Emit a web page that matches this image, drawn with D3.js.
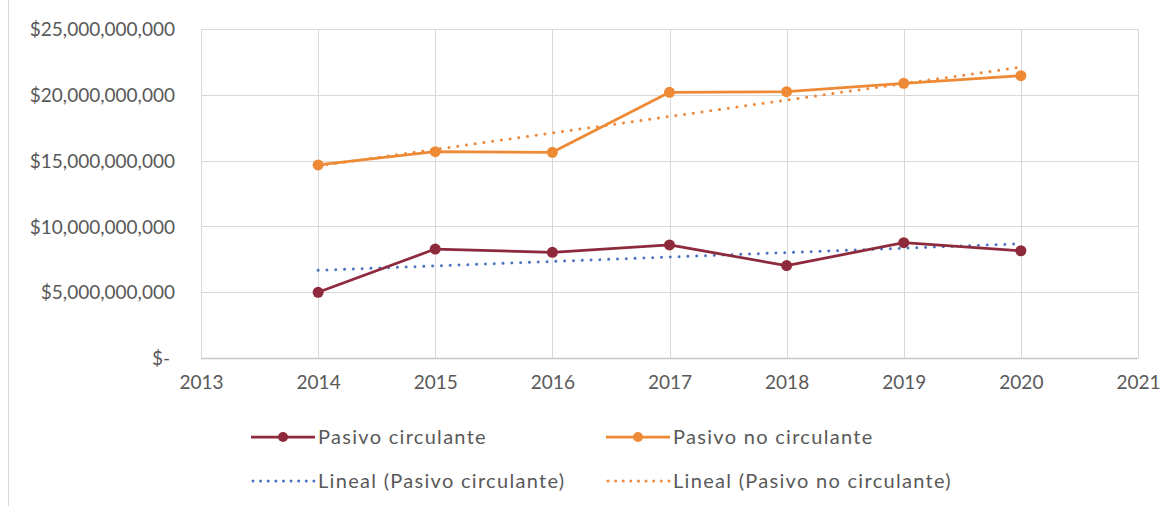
<!DOCTYPE html>
<html>
<head>
<meta charset="utf-8">
<script src="https://cdn.jsdelivr.net/npm/d3@7"></script>
<style>
  html, body { margin: 0; padding: 0; background: #fff; }
  svg { display: block; }
  text { font-family: Lato, "Open Sans", sans-serif; fill: #595959; }
</style>
</head>
<body>
<script>
// ---- data ----
const years = [2014, 2015, 2016, 2017, 2018, 2019, 2020];
const pasivoCirculante = [4.99e9, 8.28e9, 8.03e9, 8.59e9, 7.02e9, 8.76e9, 8.15e9];
const pasivoNoCirculante = [14.67e9, 15.68e9, 15.63e9, 20.19e9, 20.24e9, 20.87e9, 21.45e9];
// linear trendline endpoints (2014, 2020)
const trendYears = [2014, 2020];
const lineal_circulante = [6.66e9, 8.68e9];
const lineal_noCirculante = [14.60e9, 22.10e9];
const xTicks = [2013, 2014, 2015, 2016, 2017, 2018, 2019, 2020, 2021];
const yTicks = [0, 5e9, 10e9, 15e9, 20e9, 25e9];
const seriesNames = ["Pasivo circulante", "Pasivo no circulante",
                     "Lineal (Pasivo circulante)", "Lineal (Pasivo no circulante)"];

const W = 1172, H = 506;
const colRed = "#8e2a3c", colOrange = "#ee8a36", colBlue = "#4a74c0", colOrangeDot = "#ed8a3e";
const textCol = "#555555";

const svg = d3.select("body").append("svg").attr("width", W).attr("height", H);

// chart border (left edge visible)
svg.append("line").attr("x1", 8.5).attr("x2", 8.5).attr("y1", 0).attr("y2", H)
  .attr("stroke", "#d9d9d9").attr("stroke-width", 1);

const x = d3.scaleLinear().domain([2013, 2021]).range([201, 1138]);
const y = d3.scaleLinear().domain([0, 25e9]).range([358, 29]);

// grid
const grid = svg.append("g");
grid.selectAll(".hg").data(yTicks).join("line")
  .attr("x1", x(2013)).attr("x2", x(2021))
  .attr("y1", d => Math.round(y(d)) + 0.5).attr("y2", d => Math.round(y(d)) + 0.5)
  .attr("stroke", d => d === 0 ? "#c8c8c8" : "#d9d9d9").attr("stroke-width", d => d === 0 ? 1.5 : 1);
grid.selectAll(".vg").data(xTicks).join("line")
  .attr("y1", y(25e9)).attr("y2", y(0))
  .attr("x1", d => Math.round(x(d)) + 0.5).attr("x2", d => Math.round(x(d)) + 0.5)
  .attr("stroke", "#d9d9d9").attr("stroke-width", 1);

// axes via d3 axis generators
const fmt = d => d === 0 ? "$-" : "$" + d3.format(",")(d);
const yAxis = svg.append("g").attr("transform", "translate(175,0)")
  .call(d3.axisLeft(y).tickValues(yTicks).tickFormat(fmt).tickSize(0).tickPadding(0));
yAxis.select(".domain").remove();
yAxis.selectAll("text").attr("font-size", 19).attr("font-family", "Lato, sans-serif")
  .attr("fill", textCol).attr("dy", "0.35em");
yAxis.selectAll("text").filter(d => d === 0).attr("dx", -5);

const xAxis = svg.append("g").attr("transform", "translate(0,375)")
  .call(d3.axisBottom(x).tickValues(xTicks).tickFormat(d3.format("d")).tickSize(0).tickPadding(0));
xAxis.select(".domain").remove();
xAxis.selectAll("text").attr("font-size", 19).attr("font-family", "Lato, sans-serif")
  .attr("fill", textCol).attr("dy", "0.71em");

// trendlines
const line2 = d3.line().x(d => x(d[0])).y(d => y(d[1]));
svg.append("path").datum(d3.zip(trendYears, lineal_circulante)).attr("d", line2)
  .attr("fill", "none").attr("stroke", colBlue).attr("stroke-width", 3)
  .attr("stroke-linecap", "round").attr("stroke-dasharray", "0.01,8.8");
svg.append("path").datum(d3.zip(trendYears, lineal_noCirculante)).attr("d", line2)
  .attr("fill", "none").attr("stroke", colOrangeDot).attr("stroke-width", 3)
  .attr("stroke-linecap", "round").attr("stroke-dasharray", "0.01,8.8");

// series lines
function drawSeries(vals, color) {
  const pts = d3.zip(years, vals);
  svg.append("path").datum(pts).attr("d", line2)
    .attr("fill", "none").attr("stroke", color).attr("stroke-width", 2.75)
    .attr("stroke-linejoin", "round");
  svg.append("g").selectAll("circle").data(pts).join("circle")
    .attr("cx", d => x(d[0])).attr("cy", d => y(d[1])).attr("r", 5.5).attr("fill", color);
}
drawSeries(pasivoNoCirculante, colOrange);
drawSeries(pasivoCirculante, colRed);

// legend
const legendItems = [
  { name: seriesNames[0], color: colRed, type: "solid", lx: 251, ly: 437 },
  { name: seriesNames[1], color: colOrange, type: "solid", lx: 606, ly: 437 },
  { name: seriesNames[2], color: colBlue, type: "dot", lx: 251, ly: 481 },
  { name: seriesNames[3], color: colOrangeDot, type: "dot", lx: 606, ly: 481 }
];
const lg = svg.append("g").selectAll("g").data(legendItems).join("g")
  .attr("transform", d => `translate(${d.lx},${d.ly})`);
lg.each(function(d) {
  const g = d3.select(this);
  if (d.type === "solid") {
    g.append("line").attr("x1", 0).attr("x2", 64).attr("y1", 0).attr("y2", 0)
      .attr("stroke", d.color).attr("stroke-width", 2.75);
    g.append("circle").attr("cx", 32).attr("cy", 0).attr("r", 5).attr("fill", d.color);
  } else {
    g.append("line").attr("x1", 2).attr("x2", 64).attr("y1", 0).attr("y2", 0)
      .attr("stroke", d.color).attr("stroke-width", 3).attr("stroke-linecap", "round")
      .attr("stroke-dasharray", "0.01,7.6");
  }
  g.append("text").attr("x", 67).attr("y", 0).attr("dy", "0.35em")
    .attr("font-size", 20).attr("letter-spacing", 1.3).attr("fill", textCol).text(d.name);
});
</script>
</body>
</html>
